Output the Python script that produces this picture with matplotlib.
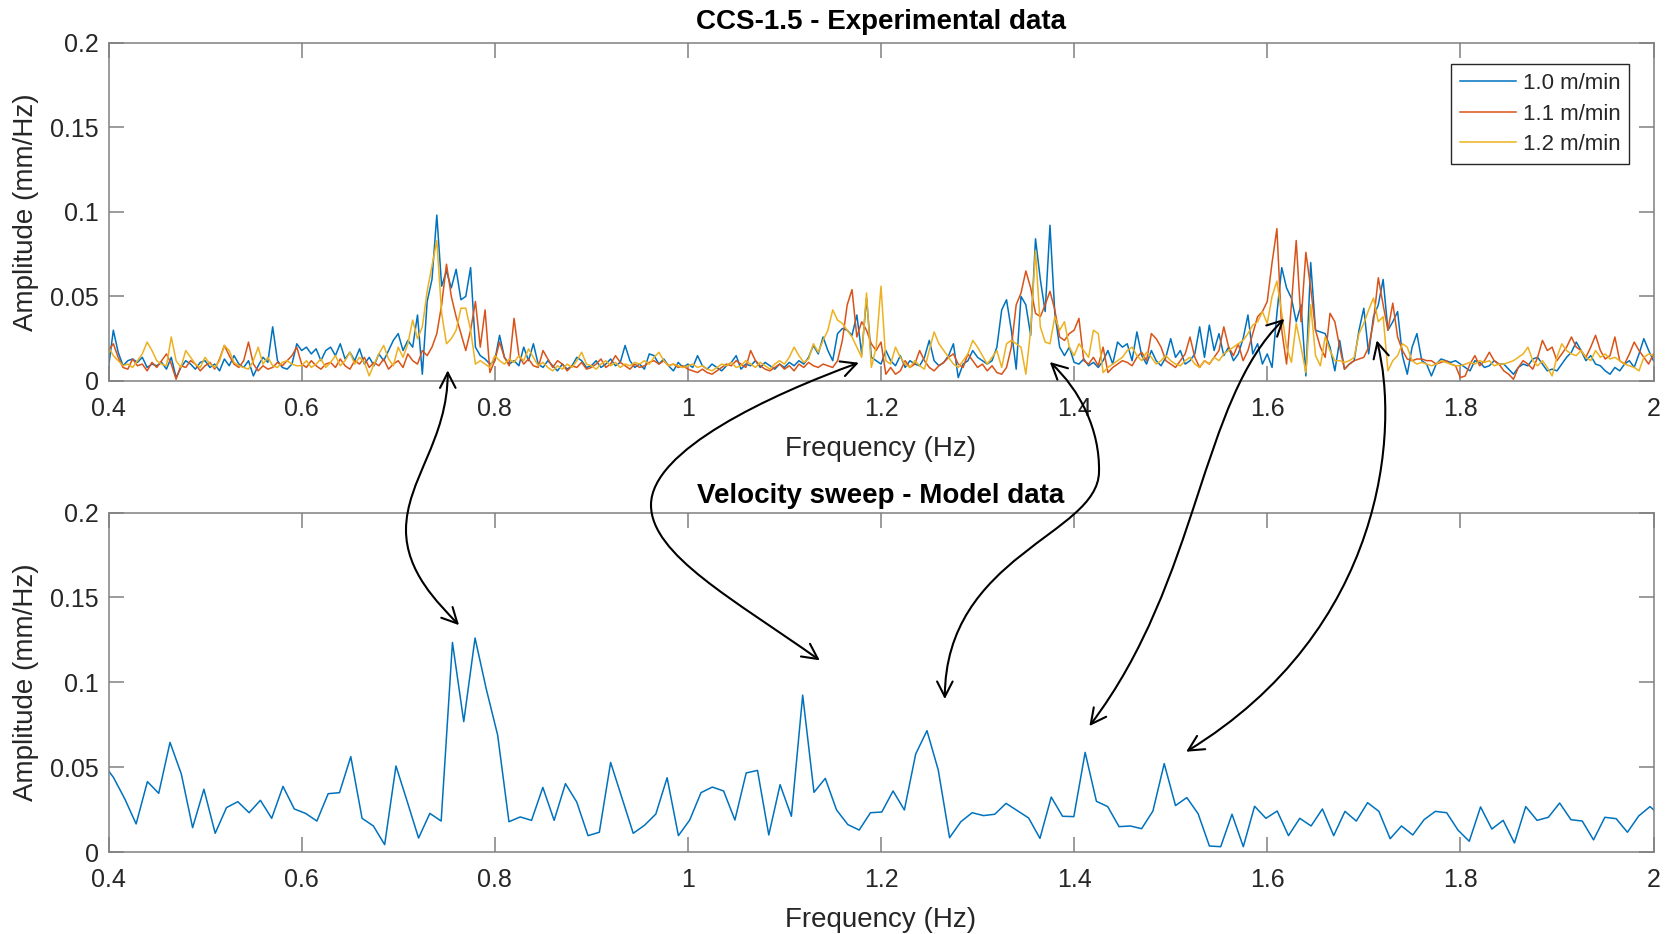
import numpy as np
import matplotlib
matplotlib.use("Agg")
import matplotlib.pyplot as plt
from matplotlib.path import Path
from matplotlib.patches import FancyArrowPatch, ArrowStyle

plt.rcParams['font.family'] = ['Liberation Sans', 'DejaVu Sans']

# ---------------- data ----------------
# Experimental spectra (values in 1e-3 mm/Hz), frequency grid 0.4 .. 2.0 Hz
exp_f_start, exp_f_stop, exp_n = 0.4, 2.0, 321
amp_10 = [  # 1.0 m/min
    8,30,17,9,12,13,11,14,8,10,9,11,7,14,2,8,12,10,7,11,
    12,8,10,6,13,9,15,10,8,12,3,9,14,11,32,12,8,7,10,22,
    18,20,16,19,12,18,20,15,22,13,17,12,19,10,14,9,16,12,18,24,
    28,18,24,20,39,4,47,60,98,56,65,55,66,48,50,67,20,15,13,10,
    12,27,14,10,12,9,20,12,22,10,8,12,9,6,10,7,9,14,12,8,
    9,12,8,10,13,9,11,21,12,8,10,7,16,15,10,13,9,6,11,8,
    10,8,15,9,7,10,8,6,9,11,15,7,10,9,12,8,11,9,7,10,
    8,11,9,12,10,14,21,16,26,18,12,28,31,30,27,39,16,49,14,12,
    10,18,12,9,15,8,12,10,9,14,24,12,9,11,15,22,2,10,12,18,
    14,12,10,12,20,42,48,30,7,50,45,27,84,60,41,92,40,20,15,20,
    11,10,13,9,11,8,12,18,10,23,20,22,12,29,15,10,18,12,9,14,
    25,14,18,10,12,16,32,14,33,18,28,15,20,12,16,25,39,16,22,10,
    16,8,40,67,55,49,35,45,3,70,30,29,28,20,6,24,7,10,12,30,
    43,16,38,45,60,30,35,41,15,4,20,28,12,10,3,10,13,12,11,12,
    10,8,6,12,11,8,9,12,10,10,7,4,8,10,9,13,14,10,6,7,
    6,10,14,17,23,18,12,15,10,9,6,4,8,6,10,12,8,16,25,18,12]
amp_11 = [  # 1.1 m/min
    18,22,14,8,7,13,9,10,6,11,8,12,16,10,1,9,8,12,10,6,
    9,11,7,13,21,15,10,8,12,23,10,6,9,7,8,11,9,12,15,20,
    10,8,12,9,7,10,11,8,13,9,7,12,10,14,8,11,9,13,7,10,
    12,8,16,12,10,18,15,20,28,45,69,50,38,28,18,30,47,20,42,5,
    12,23,14,9,37,15,10,13,9,8,18,13,8,12,10,6,9,8,11,7,
    8,10,13,8,10,15,11,9,7,10,8,9,11,12,10,12,9,10,8,9,
    7,6,5,7,5,4,6,8,10,9,12,10,8,18,12,9,7,6,8,10,
    7,9,6,10,8,11,9,8,10,9,8,12,24,45,54,26,35,30,22,18,
    23,4,8,4,6,12,8,10,18,12,8,6,9,11,14,16,10,8,16,12,
    8,10,6,9,5,4,8,20,45,52,65,55,40,38,45,53,42,26,24,28,
    30,37,12,10,14,9,20,5,8,10,12,11,9,14,17,12,28,25,20,12,
    10,8,12,16,26,14,8,12,10,14,18,32,20,15,22,12,18,28,38,41,
    47,70,90,30,10,45,83,35,76,55,30,20,14,40,35,20,7,10,12,13,
    14,20,35,61,45,30,46,26,18,13,12,13,13,12,12,10,11,12,10,9,
    2,3,10,15,9,12,17,12,10,6,4,1,8,12,10,7,14,24,18,20,
    12,16,20,26,20,18,14,20,27,18,13,15,26,12,10,16,23,18,14,10,16]
amp_12 = [  # 1.2 m/min
    20,15,12,9,10,8,12,16,23,18,12,10,9,26,12,8,18,14,10,8,
    14,10,8,12,21,18,11,9,8,7,12,20,10,14,9,8,11,12,10,9,
    9,12,8,10,13,8,11,15,9,12,17,10,14,11,3,10,16,21,13,9,
    20,14,22,36,25,32,53,68,83,40,22,25,30,43,43,30,10,12,10,8,
    15,12,10,13,11,15,12,19,14,9,11,8,6,9,7,10,8,12,17,10,
    9,7,10,12,9,11,8,10,9,11,10,12,10,14,17,12,9,10,9,8,
    9,10,8,9,7,6,8,10,9,11,8,9,12,10,8,11,9,7,10,12,
    10,14,20,15,11,13,22,17,24,30,42,36,34,30,26,20,14,52,8,20,
    56,12,10,20,14,10,8,12,9,7,18,29,22,18,14,10,8,12,16,24,
    20,15,10,14,18,8,22,24,22,20,4,30,77,32,23,22,38,30,35,20,
    15,22,18,14,30,28,5,8,10,12,14,18,20,15,12,17,14,10,12,15,
    12,10,9,12,14,10,8,12,10,14,12,16,18,20,22,24,28,33,35,41,
    34,50,59,40,20,11,34,20,5,45,15,9,26,18,12,12,11,12,14,28,
    34,42,49,35,38,6,12,15,22,20,12,10,11,10,9,10,12,11,10,9,
    9,10,11,10,12,11,12,9,10,10,11,12,14,16,20,12,9,12,8,3,
    14,22,18,16,15,18,14,12,18,14,16,13,14,12,10,9,8,6,14,16,15]
series_labels = ['1.0 m/min', '1.1 m/min', '1.2 m/min']

# Model spectrum (mm/Hz), frequency grid f0 + k*df, k = -1 .. 137
model_f0, model_df, model_k0 = 0.4052, 0.0117, -1
model_amp = [
    0.053, 0.044, 0.0314, 0.0167, 0.0416, 0.0347, 0.0647, 0.0461, 0.0145, 0.0371, 0.0112,
    0.0263, 0.0298, 0.0233, 0.0306, 0.020, 0.0388, 0.0255, 0.0229, 0.0184, 0.0345,
    0.0351, 0.0563, 0.020, 0.0155, 0.0045, 0.0508, 0.0298, 0.0084, 0.0229, 0.0184,
    0.1235, 0.0769, 0.1261, 0.0959, 0.069, 0.018, 0.0208, 0.0188, 0.0382, 0.0188,
    0.0404, 0.0296, 0.0098, 0.0118, 0.0529, 0.032, 0.0112, 0.0159, 0.0225, 0.0439,
    0.0098, 0.019, 0.0351, 0.0384, 0.0361, 0.019, 0.0467, 0.0482, 0.0102, 0.0398,
    0.0212, 0.0925, 0.0353, 0.0435, 0.0249, 0.0163, 0.0131, 0.0233, 0.0237, 0.0361,
    0.0249, 0.0578, 0.0716, 0.0484, 0.0086, 0.018, 0.0233, 0.0216, 0.0224, 0.0288,
    0.0245, 0.0202, 0.0082, 0.0325, 0.0212, 0.021, 0.0588, 0.030, 0.0269, 0.0151,
    0.0155, 0.0139, 0.0243, 0.0522, 0.0275, 0.0322, 0.0227, 0.0037, 0.0033, 0.0224,
    0.0033, 0.0271, 0.020, 0.0243, 0.0098, 0.020, 0.0155, 0.0255, 0.0098, 0.0241,
    0.0184, 0.0292, 0.0241, 0.008, 0.0155, 0.0102, 0.0192, 0.0241, 0.0233, 0.0131,
    0.0065, 0.0267, 0.0137, 0.0188, 0.0055, 0.0269, 0.0188, 0.0206, 0.029, 0.0192,
    0.0184, 0.0073, 0.0206, 0.0198, 0.0118, 0.0214, 0.0269, 0.021]

xticks = [0.4, 0.6, 0.8, 1.0, 1.2, 1.4, 1.6, 1.8, 2.0]
xticklabels = ['0.4', '0.6', '0.8', '1', '1.2', '1.4', '1.6', '1.8', '2']
yticks = [0, 0.05, 0.1, 0.15, 0.2]
yticklabels = ['0', '0.05', '0.1', '0.15', '0.2']

# peak correspondences: (exp freq, exp amp) <-> (model freq, model amp)
links_exp = [(0.7513, 0.0063), (1.177, 0.0108), (1.3748, 0.0112), (1.6177, 0.0367), (1.7134, 0.024)]
links_mod = [(0.763, 0.1337), (1.1366, 0.113), (1.2661, 0.0902), (1.4158, 0.0743), (1.516, 0.0592)]

# ---------------- figure ----------------
W, H = 1666, 934
fig = plt.figure(figsize=(W / 100, H / 100), dpi=100)

colors = ['#0072BD', '#D95319', '#EDB120']
axc = '#808080'
txtc = '#262626'

def style(ax):
    ax.set_xlim(0.4, 2.0)
    ax.set_ylim(0, 0.2)
    ax.set_xticks(xticks)
    ax.set_xticklabels(xticklabels)
    ax.set_yticks(yticks)
    ax.set_yticklabels(yticklabels)
    for s in ax.spines.values():
        s.set_color(axc)
        s.set_linewidth(1.1)
    ax.tick_params(direction='in', length=11, width=1.1, color=axc,
                   labelcolor=txtc, labelsize=18, top=True, right=True)
    ax.tick_params(axis='x', pad=11.5)
    ax.tick_params(axis='y', pad=7)
    ax.set_xlabel('Frequency (Hz)', fontsize=20, color=txtc, labelpad=10.5)
    ax.set_ylabel('Amplitude (mm/Hz)', fontsize=20, color=txtc, labelpad=8)

ax1 = fig.add_axes([108.5 / W, 1 - 381 / H, 1545 / W, 338.5 / H])
ax2 = fig.add_axes([108.5 / W, 1 - 852.3 / H, 1545 / W, 339.8 / H])

f_exp = np.linspace(exp_f_start, exp_f_stop, exp_n)
for vals, c, lab in zip([amp_10, amp_11, amp_12], colors, series_labels):
    ax1.plot(f_exp, np.array(vals) / 1000.0, color=c, lw=1.1, label=lab)
style(ax1)
ax1.set_title('CCS-1.5 - Experimental data', fontsize=20, fontweight='bold', pad=9.5)
leg = ax1.legend(loc='upper right', bbox_to_anchor=(0.9843, 0.9356), borderaxespad=0,
                 fontsize=16, fancybox=False, framealpha=1, edgecolor=txtc,
                 handlelength=2.5, handletextpad=0.3, labelspacing=0.42,
                 borderpad=0.4)
leg.get_frame().set_linewidth(1.0)
for t in leg.get_texts():
    t.set_color(txtc)

f_mod = model_f0 + model_df * np.arange(model_k0, model_k0 + len(model_amp))
ax2.plot(f_mod, model_amp, color=colors[0], lw=1.1)
style(ax2)
ax2.set_title('Velocity sweep - Model data', fontsize=20, fontweight='bold', pad=6.5)

# ---------------- curved double arrows ----------------
inv = fig.transFigure.inverted()

def dfig(ax, p):
    return tuple(inv.transform(ax.transData.transform(p)))

def pfig(x, y):
    return (x / W, 1 - y / H)

# control points (figure pixels) of each curved connector
ctrl = [
    [pfig(448, 440), pfig(406, 480), pfig(406, 530), pfig(406, 572), pfig(438, 603)],
    [pfig(770, 395), pfig(651, 450), pfig(651, 505), pfig(651, 555), pfig(735, 600)],
    [pfig(1080, 390), pfig(1100, 430), pfig(1099, 472), pfig(1098, 535), pfig(945, 555)],
    [pfig(1200, 400), pfig(1200, 580)],
    [pfig(1400, 430), pfig(1385, 630)],
]

style_arrow = ArrowStyle('<->', head_length=0.55, head_width=0.28)
for pe, pm, cp in zip(links_exp, links_mod, ctrl):
    a = dfig(ax1, pe)
    b = dfig(ax2, pm)
    verts = [a] + cp + [b]
    codes = [Path.MOVETO] + [Path.CURVE4] * (len(verts) - 1)
    arr = FancyArrowPatch(path=Path(verts, codes), arrowstyle=style_arrow,
                          mutation_scale=20, lw=1.5, color='black',
                          transform=fig.transFigure, clip_on=False)
    fig.patches.append(arr)

fig.savefig('out.png', dpi=100)
